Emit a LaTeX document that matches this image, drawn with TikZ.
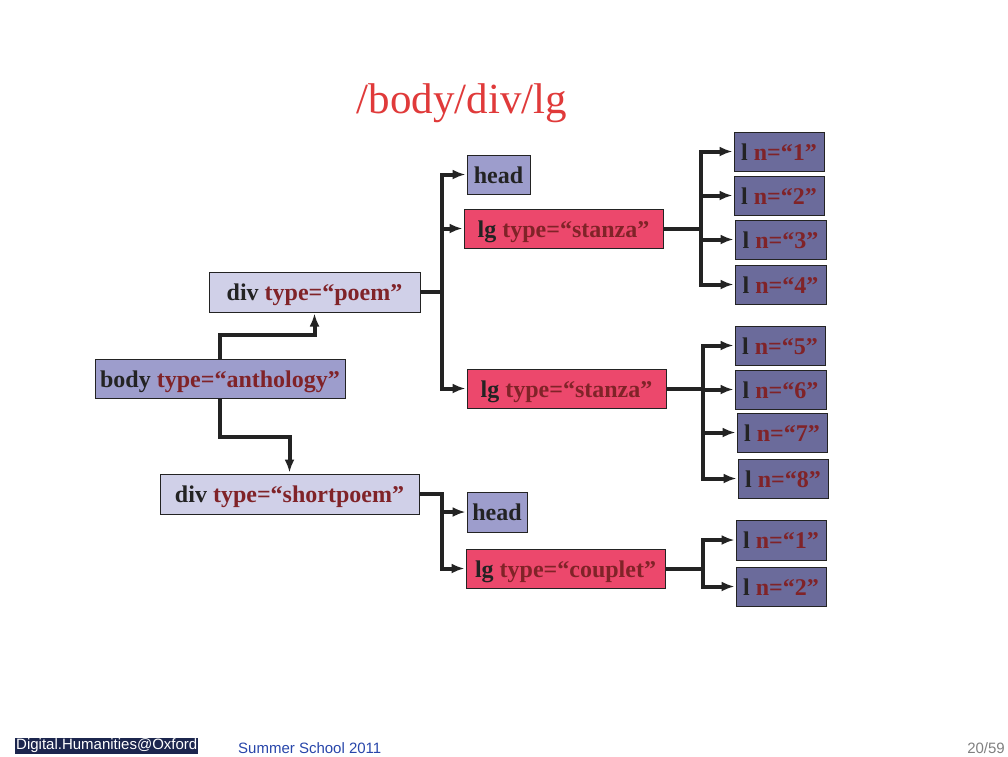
\documentclass[tikz,border=0pt]{standalone}
\usepackage{fontspec}
\setmainfont{Liberation Serif}
\newfontfamily\footfont{Liberation Sans}
\usetikzlibrary{arrows.meta}
\definecolor{titlered}{RGB}{224,58,58}
\definecolor{attred}{RGB}{128,35,40}
\definecolor{ink}{RGB}{35,35,35}
\definecolor{palebox}{RGB}{208,208,232}
\definecolor{midbox}{RGB}{157,157,204}
\definecolor{darkbox}{RGB}{107,107,155}
\definecolor{pinkbox}{RGB}{236,72,108}
\definecolor{navy}{RGB}{28,38,78}
\definecolor{footblue}{RGB}{40,70,170}
\newcommand{\el}[2]{#1 \textcolor{attred}{#2}}
\begin{document}
\begin{tikzpicture}[x=1pt,y=-1pt,
    box/.style={draw=ink, line width=1pt, inner sep=0pt, minimum height=39pt,
      text height=17pt, text depth=0pt,
      font=\fontsize{24}{27}\selectfont\bfseries, text=ink},
    divbox/.style={box, fill=palebox, minimum height=40pt},
    headbox/.style={box, fill=midbox},
    lgbox/.style={box, fill=pinkbox, minimum width=199pt},
    lbox/.style={box, fill=darkbox, minimum width=90pt},
    foot/.style={inner sep=1pt, font=\footfont\fontsize{15}{16}\selectfont},
    conn/.style={draw=ink, line width=4pt, shorten >=1pt, -{Latex[length=13pt,width=10pt]}}]
    \useasboundingbox[fill=white] (0,0) rectangle (1008,756);
    \node[font=\fontsize{43}{46}\selectfont, text=titlered] (title) at (462,103) {/body/div/lg};
    % Element boxes
    \node[headbox, minimum width=250pt] (body) at (220,378.5) {\el{body}{type=“anthology”}};
    \node[divbox, minimum width=211pt] (poem) at (314.5,292) {\el{div}{type=“poem”}};
    \node[divbox, minimum width=259pt] (short) at (289.5,494) {\el{div}{type=“shortpoem”}};
    \node[headbox, minimum width=63pt] (headA) at (498.5,174.5) {head};
    \node[lgbox] (stanzaA) at (563.5,228.5) {\el{lg}{type=“stanza”}};
    \node[lgbox] (stanzaB) at (566.5,388.5) {\el{lg}{type=“stanza”}};
    \node[headbox, minimum width=60pt, minimum height=40pt] (headB) at (497,512) {head};
    \node[lgbox] (couplet) at (565.5,568.5) {\el{lg}{type=“couplet”}};
    % Line boxes
    \node[lbox] (l1) at (779,151.5) {\el{l}{n=“1”}};
    \node[lbox] (l2) at (779,195.5) {\el{l}{n=“2”}};
    \node[lbox, minimum width=91pt] (l3) at (780.5,239.5) {\el{l}{n=“3”}};
    \node[lbox, minimum width=91pt] (l4) at (780.5,284.5) {\el{l}{n=“4”}};
    \node[lbox] (l5) at (780,345.5) {\el{l}{n=“5”}};
    \node[lbox, minimum width=91pt] (l6) at (780.5,389.5) {\el{l}{n=“6”}};
    \node[lbox] (l7) at (782,432.5) {\el{l}{n=“7”}};
    \node[lbox] (l8) at (783,478.5) {\el{l}{n=“8”}};
    \node[lbox, minimum height=40pt] (m1) at (781,540) {\el{l}{n=“1”}};
    \node[lbox] (m2) at (781,586.5) {\el{l}{n=“2”}};
    %
    % Tree edges:
    \draw[conn] (body.north) -- ++(0,-24) -| (poem.south);
    \draw[conn] (body.south) -- ++(0,38) -| (short.north);
    \draw[conn] (poem.east) -- ++(21,0) |- (headA.west);
    \draw[conn] (poem.east) -- ++(21,0) |- (stanzaA.west);
    \draw[conn] (poem.east) -- ++(21,0) |- (stanzaB.west);
    \draw[conn] (short.east) -- ++(22,0) |- (headB.west);
    \draw[conn] (short.east) -- ++(22,0) |- (couplet.west);
    \foreach \l in {l1,l2,l3,l4}
      \draw[conn] (stanzaA.east) -- ++(37,0) |- (\l.west);
    \foreach \l in {l5,l6,l7,l8}
      \draw[conn] (stanzaB.east) -- ++(36,0) |- (\l.west);
    \foreach \l in {m1,m2}
      \draw[conn] (couplet.east) -- ++(37,0) |- (\l.west);
    %
    % Footer
    \node[foot, fill=navy, text=white, anchor=west] (inst) at (15,746) {Digital.Humanities@Oxford};
    \node[foot, text=footblue, anchor=west] (event) at (237,748) {Summer School 2011};
    \node[foot, text=gray, anchor=east] (page) at (1006,748) {20/59};
\end{tikzpicture}
\end{document}
